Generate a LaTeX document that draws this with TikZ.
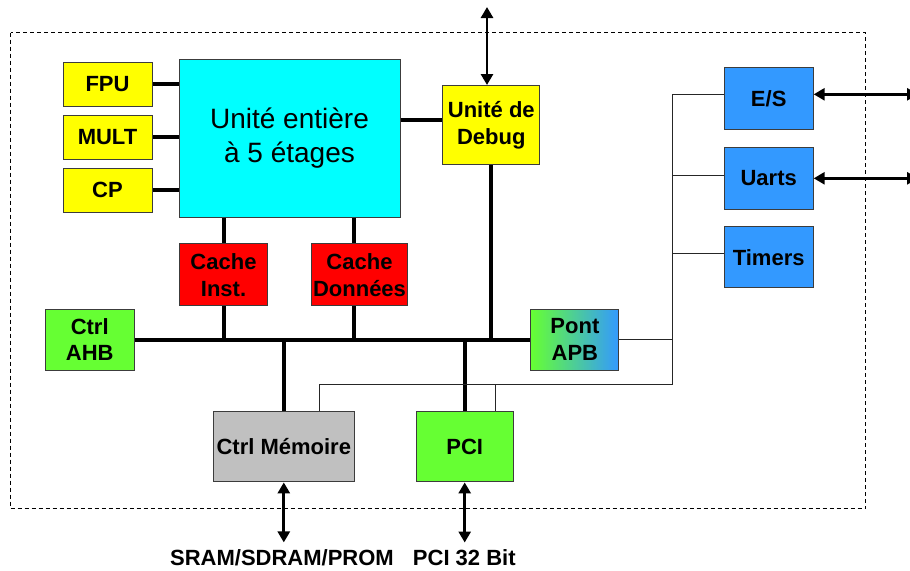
\documentclass[tikz,border=0pt]{standalone}
\usepackage{fontspec}
\setmainfont{Liberation Sans}
\usetikzlibrary{arrows.meta}

\definecolor{unityellow}{RGB}{255,255,0}
\definecolor{iucyan}{RGB}{0,255,255}
\definecolor{cachered}{RGB}{255,0,0}
\definecolor{ahbgreen}{RGB}{102,255,51}
\definecolor{apbblue}{RGB}{51,153,255}
\definecolor{memgray}{RGB}{192,192,192}
\definecolor{edgegray}{RGB}{60,60,60}

\begin{document}
\begin{tikzpicture}[x=0.5pt,y=-0.5pt,
  blockbox/.style={draw=edgegray, line width=0.5pt, inner sep=0pt, align=center,
                   font=\fontsize{11}{13.3}\selectfont\bfseries},
  bigbox/.style={blockbox, font=\fontsize{14}{17}\selectfont},
  portlabel/.style={inner sep=3.5pt, font=\fontsize{11}{13.3}\selectfont\bfseries},
  busline/.style={line width=2pt},
  thinlink/.style={line width=0.5pt, draw=black!85},
  io/.style={{Triangle[length=5.5pt,width=6pt]}-{Triangle[length=5.5pt,width=6pt]}, line width=1.4pt},
  frame/.style={line width=0.5pt, dash pattern=on 2pt off 1.5pt}
]
\useasboundingbox (0,0) rectangle (910,570);

% chip boundary
\draw[frame] (10.7,32.7) rectangle (865.7,508.7);

% processor core
\node[bigbox, fill=iucyan, minimum width=110.5pt, minimum height=79pt] (iu) at (289.5,138) {Unité entière\\à 5 étages};
\node[blockbox, fill=unityellow, minimum width=44.5pt, minimum height=22pt] (fpu)  at (107.5,84)  {FPU};
\node[blockbox, fill=unityellow, minimum width=44.5pt, minimum height=22pt] (mult) at (107.5,137) {MULT};
\node[blockbox, fill=unityellow, minimum width=44.5pt, minimum height=22pt] (cp)   at (107.5,190) {CP};
\node[blockbox, fill=unityellow, minimum width=48.5pt, minimum height=39.5pt] (dbg) at (491.3,125) {Unité de\\Debug};

% caches
\node[blockbox, fill=cachered, minimum width=44pt, minimum height=31pt] (ci) at (223.5,274.9) {Cache\\Inst.};
\node[blockbox, fill=cachered, minimum width=48pt, minimum height=31pt] (cd) at (359.5,274.9) {Cache\\Données};

% AHB side
\node[blockbox, fill=ahbgreen, minimum width=44.5pt, minimum height=30.5pt] (ahb) at (89.7,339.5) {Ctrl\\AHB};
\node[blockbox, left color=ahbgreen, right color=apbblue, minimum width=44pt, minimum height=30.5pt] (apb) at (574.9,339.5) {Pont\\APB};
\node[blockbox, fill=memgray, minimum width=70.5pt, minimum height=35pt] (mem) at (283.8,446.9) {Ctrl Mémoire};
\node[blockbox, fill=ahbgreen, minimum width=48.5pt, minimum height=35pt] (pci) at (464.7,446.9) {PCI};

% APB peripherals
\node[blockbox, fill=apbblue, minimum width=44.5pt, minimum height=31pt] (es)     at (768.7,98.3)  {E/S};
\node[blockbox, fill=apbblue, minimum width=44.5pt, minimum height=31pt] (uarts)  at (768.7,178)   {Uarts};
\node[blockbox, fill=apbblue, minimum width=44.5pt, minimum height=30.5pt] (timers) at (768.7,257.3) {Timers};

% external interface labels
\node[portlabel] (sram)   at (282,558)   {SRAM/SDRAM/PROM};
\node[portlabel] (pcibus) at (464.3,558) {PCI 32 Bit};

% reference points
\coordinate (cdx)     at (354,0);
\coordinate (dbgy)    at (0,120);
\coordinate (dbgport) at (487,7);
\coordinate (esport)  at (918,94.3);
\coordinate (uaport)  at (918,178.3);
\coordinate (railtop) at (672,94.3);
\coordinate (railbot) at (672,384.3);
\coordinate (uay)     at (0,175.7);
\coordinate (tiy)     at (0,253);
\coordinate (memtap)  at (319.3,0);
\coordinate (pcitap)  at (495.7,0);

% coprocessor links
\draw[busline] (fpu.east)  -- (fpu.east -| iu.west);
\draw[busline] (mult.east) -- (mult.east -| iu.west);
\draw[busline] (cp.east)   -- (cp.east -| iu.west);
\draw[busline] (iu.east |- dbgy) -- (dbg.west |- dbgy);

% core to caches
\draw[busline] (iu.south -| ci.north) -- (ci.north);
\draw[busline] (iu.south -| cdx) -- (cd.north -| cdx);

% AHB bus
\draw[busline] (ahb.east) -- (apb.west);
\draw[busline] (ci.south) -- (ci.south |- ahb.east);
\draw[busline] (cd.south -| cdx) -- (cdx |- ahb.east);
\draw[busline] (dbg.south) -- (dbg.south |- ahb.east);
\draw[busline] (mem.north) -- (mem.north |- ahb.east);
\draw[busline] (pci.north) -- (pci.north |- ahb.east);

% APB bus
\draw[thinlink] (apb.east) -- (apb.east -| railtop);
\draw[thinlink] (es.west |- railtop) -- (railtop) -- (railbot) -- (railbot -| memtap) -- (memtap |- mem.north);
\draw[thinlink] (uarts.west |- uay) -- (railtop |- uay);
\draw[thinlink] (timers.west |- tiy) -- (railtop |- tiy);
\draw[thinlink] (railbot -| pcitap) -- (pcitap |- pci.north);

% external ports
\draw[io] (dbgport) -- (dbgport |- dbg.north);
\draw[io] (es.east |- esport) -- (esport);
\draw[io] (uarts.east |- uaport) -- (uaport);
\draw[io] (mem.south) -- (mem.south |- sram.north);
\draw[io] (pci.south) -- (pci.south |- pcibus.north);
\end{tikzpicture}
\end{document}
